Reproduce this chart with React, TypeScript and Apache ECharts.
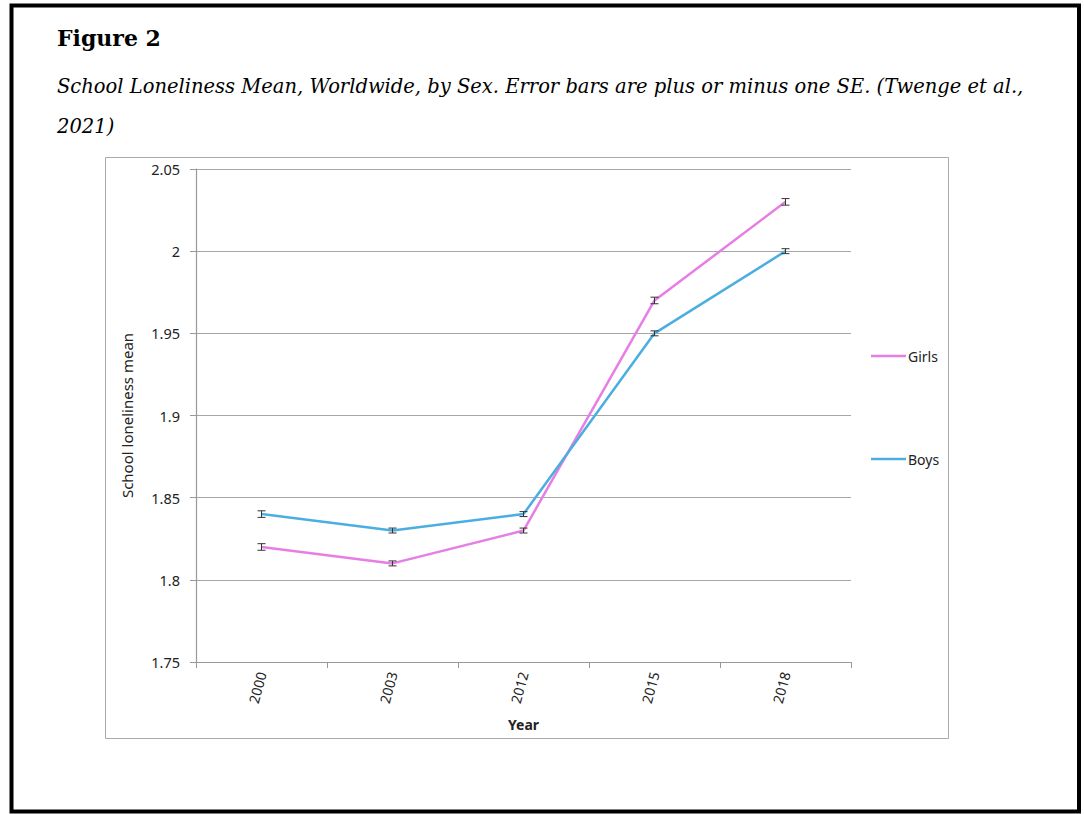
import React, { useEffect, useRef } from "react";
import * as echarts from "echarts";

// Survey years and school loneliness means by sex
const years = ["2000", "2003", "2012", "2015", "2018"];
const girls = [1.82, 1.81, 1.83, 1.97, 2.03];
const boys = [1.84, 1.83, 1.84, 1.95, 2.0];
// Standard errors (plus or minus one SE)
const girlsSE = [0.002, 0.0015, 0.0015, 0.002, 0.002];
const boysSE = [0.002, 0.0015, 0.0015, 0.0015, 0.0015];

const GIRLS_COLOR = "#e67ee6";
const BOYS_COLOR = "#4baee0";
const SANS = "'Noto Sans', 'Open Sans', sans-serif";
const SERIF = "'DejaVu Serif', 'Liberation Serif', serif";

const errorData = (vals: number[], se: number[]) =>
  vals.map((v, i) => [i, v - se[i], v + se[i]]);

const renderError = (params: any, api: any) => {
  const x = api.value(0);
  const lo = api.coord([x, api.value(1)]);
  const hi = api.coord([x, api.value(2)]);
  const hw = 4;
  const style = { stroke: "#333", lineWidth: 1 };
  return {
    type: "group",
    children: [
      { type: "line", shape: { x1: lo[0], y1: lo[1], x2: hi[0], y2: hi[1] }, style },
      { type: "line", shape: { x1: lo[0] - hw, y1: lo[1], x2: lo[0] + hw, y2: lo[1] }, style },
      { type: "line", shape: { x1: hi[0] - hw, y1: hi[1], x2: hi[0] + hw, y2: hi[1] }, style },
    ],
  };
};

export default function App() {
  const ref = useRef<HTMLDivElement>(null);

  useEffect(() => {
    document.body.style.margin = "0";
    const chart = echarts.init(ref.current!, null, { renderer: "svg" });
    chart.setOption({
      animation: false,
      backgroundColor: "#ffffff",
      graphic: [
        {
          type: "rect",
          shape: { x: 11.5, y: 5.5, width: 1067.5, height: 806 },
          style: { fill: "none", stroke: "#000", lineWidth: 4 },
          silent: true,
        },
        {
          type: "rect",
          shape: { x: 105.5, y: 157.5, width: 843, height: 581 },
          style: { fill: "none", stroke: "#aaaaaa", lineWidth: 1 },
          silent: true,
        },
        {
          type: "text",
          x: 57,
          y: 38,
          style: {
            text: "Figure 2",
            font: `bold 22px ${SERIF}`,
            fill: "#000",
            verticalAlign: "middle",
          },
        },
        {
          type: "text",
          x: 57,
          y: 86,
          style: {
            text: "School Loneliness Mean, Worldwide, by Sex. Error bars are plus or minus one SE. (Twenge et al.,",
            font: `italic 19.5px ${SERIF}`,
            fill: "#000",
            verticalAlign: "middle",
          },
        },
        {
          type: "text",
          x: 57,
          y: 126,
          style: {
            text: "2021)",
            font: `italic 19.5px ${SERIF}`,
            fill: "#000",
            verticalAlign: "middle",
          },
        },
      ],
      grid: { left: 196, top: 169, width: 655, height: 493, containLabel: false },
      legend: {
        data: ["Girls", "Boys"],
        orient: "vertical",
        left: 866,
        top: 344,
        itemWidth: 35,
        itemHeight: 2.5,
        itemGap: 89,
        icon: "rect",
        textStyle: { fontFamily: SANS, fontSize: 14, color: "#222", padding: [0, 0, 0, -3] },
      },
      xAxis: {
        type: "category",
        data: years,
        boundaryGap: true,
        name: "Year",
        nameLocation: "middle",
        nameGap: 55,
        nameTextStyle: { fontFamily: SANS, fontSize: 14, fontWeight: "bold", color: "#222" },
        axisLine: { lineStyle: { color: "#999", width: 1.2 } },
        axisTick: { show: true, length: 6, lineStyle: { color: "#999" } },
        axisLabel: { rotate: 75, margin: 10, fontFamily: SANS, fontSize: 14, color: "#222" },
        splitLine: { show: false },
      },
      yAxis: {
        type: "value",
        min: 1.75,
        max: 2.05,
        interval: 0.05,
        name: "School loneliness mean",
        nameLocation: "middle",
        nameGap: 62,
        nameRotate: 90,
        nameTextStyle: { fontFamily: SANS, fontSize: 15, color: "#222" },
        axisLine: { show: true, lineStyle: { color: "#999", width: 1.2 } },
        axisTick: { show: true, length: 6, lineStyle: { color: "#999" } },
        axisLabel: { margin: 16, fontFamily: SANS, fontSize: 14.5, color: "#222" },
        splitLine: { show: true, lineStyle: { color: "#a6a6a6", width: 1.2 } },
      },
      series: [
        {
          name: "Girls",
          type: "line",
          data: girls,
          showSymbol: false,
          symbol: "none",
          color: GIRLS_COLOR,
          lineStyle: { color: GIRLS_COLOR, width: 2.5 },
          z: 3,
        },
        {
          name: "Boys",
          type: "line",
          data: boys,
          showSymbol: false,
          symbol: "none",
          color: BOYS_COLOR,
          lineStyle: { color: BOYS_COLOR, width: 2.5 },
          z: 3,
        },
        {
          name: "Girls SE",
          type: "custom",
          data: errorData(girls, girlsSE),
          encode: { x: 0, y: [1, 2] },
          renderItem: renderError,
          z: 4,
        },
        {
          name: "Boys SE",
          type: "custom",
          data: errorData(boys, boysSE),
          encode: { x: 0, y: [1, 2] },
          renderItem: renderError,
          z: 4,
        },
      ],
    });
    return () => chart.dispose();
  }, []);

  return (
    <div
      ref={ref}
      style={{ position: "absolute", left: 0, top: 0, width: 1084, height: 814 }}
    />
  );
}
